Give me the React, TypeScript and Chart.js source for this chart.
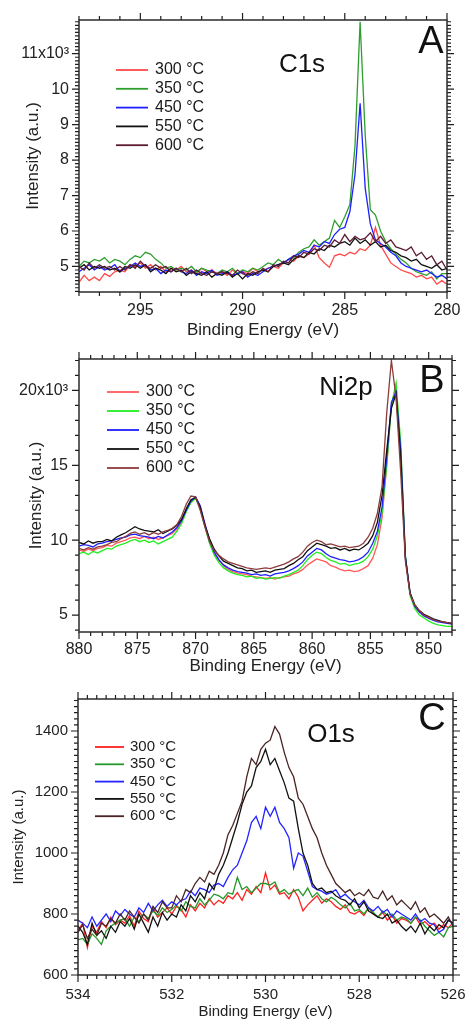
import React, { useEffect, useRef } from "react";
import { Chart, registerables } from "chart.js";

Chart.register(...registerables);

const FONT = "'Liberation Sans', Arial, Helvetica, sans-serif";
const TEMPS = ["300 °C", "350 °C", "450 °C", "550 °C", "600 °C"];

// ---------------- Panel A : C1s (intensity in 10^3 a.u.) ----------------
const C1S_ENERGY = [
  298, 297.75, 297.5, 297.25, 297, 296.75, 296.5, 296.25, 296, 295.75, 295.5, 295.25,
  295, 294.75, 294.5, 294.25, 294, 293.75, 293.5, 293.25, 293, 292.75, 292.5, 292.25,
  292, 291.75, 291.5, 291.25, 291, 290.75, 290.5, 290.25, 290, 289.75, 289.5, 289.25,
  289, 288.75, 288.5, 288.25, 288, 287.75, 287.5, 287.25, 287, 286.75, 286.5, 286.25,
  286, 285.75, 285.5, 285.25, 285, 284.75, 284.5, 284.25, 284, 283.75, 283.5, 283.25,
  283, 282.75, 282.5, 282.25, 282, 281.75, 281.5, 281.25, 281, 280.75, 280.5, 280.25,
  280,
];
const C1S_300 = [
  4.55, 4.75, 4.6, 4.7, 4.6, 4.8, 4.72, 4.85, 4.9, 4.85, 5.05, 5.0,
  5.1, 4.95, 5.05, 4.9, 5.0, 4.85, 4.95, 4.9, 5.0, 4.85, 4.9, 4.8,
  4.95, 4.85, 4.9, 4.8, 4.85, 4.75, 4.9, 4.8, 4.85, 4.8, 4.95, 4.85,
  4.9, 4.95, 5.0, 4.95, 5.1, 5.2, 5.15, 5.3, 5.25, 5.35, 5.6, 5.25,
  5.1, 4.98, 5.3, 5.35, 5.3, 5.4, 5.35, 5.5, 5.45, 5.6, 6.1, 5.6,
  5.35, 5.1, 5.0, 4.9, 4.85, 4.8, 4.7, 4.75, 4.65, 4.7, 4.5, 4.6,
  4.5,
];
const C1S_350 = [
  5.0, 5.15, 5.1, 5.2, 5.15, 5.25, 5.1, 5.2, 5.15, 5.05, 5.2, 5.3,
  5.25, 5.4, 5.35, 5.2, 5.1, 4.95, 5.0, 4.9, 4.95, 4.9, 5.0, 4.85,
  4.95, 4.9, 4.85, 4.8, 4.9, 4.85, 4.95, 4.8, 4.9, 4.85, 4.95, 4.9,
  5.0, 5.1, 5.05, 5.2, 5.1, 5.2, 5.25, 5.4, 5.5, 5.55, 5.75, 5.6,
  5.7, 5.8, 6.3, 6.1, 6.4, 6.75, 8.4, 11.9, 8.7, 6.6, 6.45, 6.0,
  5.7, 5.5, 5.35, 5.2, 5.1, 4.95, 4.85, 4.8, 4.75, 4.85, 4.65, 4.8,
  4.8,
];
const C1S_450 = [
  4.85, 4.95, 5.05, 4.9, 5.0, 4.9, 4.95, 5.05, 4.85, 4.95, 5.0, 5.1,
  5.0, 5.05, 4.9, 4.95, 4.8, 4.9, 4.85, 4.95, 4.85, 4.8, 4.9, 4.75,
  4.85, 4.8, 4.9, 4.75, 4.8, 4.85, 4.75, 4.8, 4.85, 4.7, 4.8, 4.75,
  4.85, 4.95, 5.0, 5.05, 5.1, 5.2, 5.3, 5.35, 5.45, 5.4, 5.6, 5.55,
  5.7, 5.65, 5.9, 6.05, 6.1, 6.55, 7.6, 9.6, 7.2, 6.2, 5.75, 5.65,
  5.55, 5.4, 5.3, 5.1, 5.0, 4.95, 4.9, 4.85, 4.9, 4.8, 4.7, 4.75,
  4.65,
];
const C1S_550 = [
  4.95, 5.05, 4.9, 5.0, 4.95, 5.0, 4.9, 4.95, 4.85, 5.0, 4.95, 5.05,
  4.95, 5.05, 4.85, 4.95, 4.9, 4.8, 4.95, 4.85, 4.9, 4.75, 4.85, 4.8,
  4.75, 4.85, 4.7, 4.8, 4.75, 4.85, 4.7, 4.8, 4.65, 4.8, 4.75, 4.85,
  4.9, 4.85, 5.0, 5.05, 5.1, 5.05, 5.2, 5.3, 5.25, 5.4, 5.35, 5.5,
  5.45, 5.6, 5.55, 5.65, 5.7, 5.6, 5.8, 5.65, 5.75, 5.6, 5.7, 5.55,
  5.6, 5.45, 5.4, 5.3, 5.25, 5.15, 5.2, 5.05, 5.0, 4.95, 5.05, 4.9,
  4.95,
];
const C1S_600 = [
  5.0, 4.9, 5.1, 4.95, 5.05, 4.95, 5.0, 4.9, 5.0, 4.9, 5.05, 4.95,
  5.15, 5.0, 4.95, 5.05, 4.95, 5.0, 4.85, 4.95, 4.85, 4.95, 4.8, 4.9,
  4.8, 4.75, 4.85, 4.8, 4.85, 4.8, 4.75, 4.9, 4.8, 4.75, 4.85, 4.8,
  4.95, 4.85, 5.05, 5.0, 5.15, 5.1, 5.3, 5.25, 5.4, 5.35, 5.5, 5.45,
  5.6, 5.55, 5.75, 5.65, 5.9, 5.7, 5.85, 5.75, 5.8, 5.95, 5.7, 5.85,
  5.65, 5.75, 5.55, 5.5, 5.45, 5.55, 5.3, 5.4, 5.2, 5.3, 5.05, 5.15,
  4.9,
];

// ---------------- Panel B : Ni2p (intensity in 10^3 a.u.) ----------------
const NI2P_ENERGY = [
  880, 879.6, 879.2, 878.8, 878.4, 878, 877.6, 877.2, 876.8, 876.4,
  876, 875.6, 875.2, 874.8, 874.4, 874, 873.6, 873.2, 872.8, 872.4,
  872, 871.6, 871.2, 870.8, 870.4, 870, 869.6, 869.2, 868.8, 868.4,
  868, 867.6, 867.2, 866.8, 866.4, 866, 865.6, 865.2, 864.8, 864.4,
  864, 863.6, 863.2, 862.8, 862.4, 862, 861.6, 861.2, 860.8, 860.4,
  860, 859.6, 859.2, 858.8, 858.4, 858, 857.6, 857.2, 856.8, 856.4,
  856, 855.6, 855.2, 854.8, 854.4, 854, 853.6, 853.2, 852.8, 852.4,
  852, 851.6, 851.2, 850.8, 850.4, 850, 849.6, 849.2, 848.8, 848.4,
  848,
];
const NI2P_300 = [
  9.35, 9.25, 9.4, 9.3, 9.45, 9.5, 9.65, 9.6, 9.8, 9.9,
  10.0, 10.15, 10.2, 10.1, 10.25, 10.1, 10.2, 10.05, 10.15, 10.3,
  10.45, 10.75, 11.2, 11.95, 12.55, 12.85, 12.2, 11.0, 9.9, 9.1,
  8.65, 8.3, 8.05, 7.9, 7.8, 7.75, 7.7, 7.6, 7.55, 7.5,
  7.45, 7.5, 7.4, 7.5, 7.55, 7.6, 7.75, 7.85, 8.05, 8.35,
  8.55, 8.75, 8.65, 8.55, 8.3, 8.2, 8.05, 7.95, 8.0, 7.9,
  7.95, 8.1, 8.3, 8.8, 9.7, 11.5, 15.0, 19.0, 20.3, 16.0,
  8.9, 6.45, 5.6, 5.2, 4.95, 4.8, 4.7, 4.6, 4.55, 4.5,
  4.45,
];
const NI2P_350 = [
  9.1, 9.2, 9.05, 9.25, 9.15, 9.3, 9.45, 9.4, 9.6, 9.7,
  9.8, 9.95, 10.05, 9.9, 10.0, 9.85, 9.95, 9.75, 9.9, 10.05,
  10.2, 10.6, 11.1, 11.9, 12.5, 12.8, 12.1, 10.9, 9.8, 9.0,
  8.5, 8.15, 7.95, 7.8, 7.7, 7.65, 7.55, 7.6, 7.45, 7.5,
  7.4, 7.45, 7.5, 7.45, 7.6, 7.7, 7.85, 8.0, 8.3, 8.7,
  9.0, 9.2, 9.1, 8.85, 8.65, 8.55, 8.4, 8.45, 8.3, 8.4,
  8.45, 8.6, 8.9, 9.4, 10.3, 11.8, 15.0, 19.0, 20.5, 16.5,
  9.0, 6.3, 5.45, 5.0, 4.8, 4.6, 4.45, 4.35, 4.3, 4.25,
  4.25,
];
const NI2P_450 = [
  9.6, 9.7, 9.65, 9.55, 9.75, 9.8, 9.9, 9.95, 10.05, 10.15,
  10.2, 10.35, 10.4, 10.3, 10.25, 10.2, 10.1, 10.25, 10.15, 10.35,
  10.55, 10.85, 11.3, 12.0, 12.6, 12.9, 12.3, 11.1, 10.0, 9.2,
  8.7, 8.35, 8.15, 8.0, 7.9, 7.85, 7.8, 7.7, 7.75, 7.65,
  7.7, 7.6, 7.75, 7.8, 7.85, 7.95, 8.1, 8.3, 8.55, 8.95,
  9.2, 9.45, 9.35, 9.1, 8.9, 8.8, 8.7, 8.65, 8.55, 8.6,
  8.7, 8.9, 9.2, 9.8, 10.6, 12.2, 15.5, 19.2, 19.9, 16.0,
  8.9, 6.5, 5.6, 5.2, 4.95, 4.8, 4.65, 4.55, 4.5, 4.45,
  4.4,
];
const NI2P_550 = [
  9.85, 9.75, 9.95, 9.8, 9.9, 9.9, 10.05, 9.95, 10.2, 10.35,
  10.5, 10.7, 10.9, 10.75, 10.65, 10.6, 10.55, 10.7, 10.45, 10.6,
  10.75, 11.0, 11.4, 12.1, 12.7, 12.85, 12.2, 11.0, 10.1, 9.4,
  8.95, 8.6, 8.45, 8.3, 8.15, 8.1, 7.95, 8.0, 7.85, 7.9,
  7.95, 7.85, 8.0, 8.05, 8.1, 8.3, 8.45, 8.7, 8.9, 9.3,
  9.55, 9.8, 9.7, 9.6, 9.45, 9.5, 9.35, 9.45, 9.3, 9.4,
  9.35, 9.55, 9.8, 10.3, 11.2, 13.0, 16.0, 18.8, 19.8, 15.5,
  8.8, 6.5, 5.7, 5.3, 5.05, 4.9, 4.75, 4.65, 4.55, 4.5,
  4.45,
];
const NI2P_600 = [
  9.45, 9.35, 9.5, 9.4, 9.55, 9.6, 9.7, 9.85, 9.9, 10.1,
  10.25, 10.45, 10.55, 10.4, 10.5, 10.35, 10.5, 10.4, 10.55, 10.65,
  10.8, 11.05, 11.6, 12.4, 12.95, 12.9, 12.0, 10.9, 9.9, 9.3,
  9.0, 8.75, 8.55, 8.45, 8.35, 8.25, 8.15, 8.1, 8.05, 8.1,
  8.15, 8.1, 8.2, 8.3, 8.4, 8.55, 8.75, 8.9, 9.2, 9.6,
  9.85, 10.0, 9.9, 9.7, 9.75, 9.65, 9.55, 9.6, 9.5, 9.55,
  9.6, 9.8, 10.2, 10.8, 11.8, 13.6, 18.5, 22.0, 19.5, 14.5,
  8.6, 6.4, 5.65, 5.3, 5.0, 4.85, 4.7, 4.6, 4.55, 4.5,
  4.45,
];

// ---------------- Panel C : O1s (intensity in a.u.) ----------------
const O1S_ENERGY = [
  534, 533.9, 533.8, 533.7, 533.6, 533.5, 533.4, 533.3, 533.2, 533.1,
  533, 532.9, 532.8, 532.7, 532.6, 532.5, 532.4, 532.3, 532.2, 532.1,
  532, 531.9, 531.8, 531.7, 531.6, 531.5, 531.4, 531.3, 531.2, 531.1,
  531, 530.9, 530.8, 530.7, 530.6, 530.5, 530.4, 530.3, 530.2, 530.1,
  530, 529.9, 529.8, 529.7, 529.6, 529.5, 529.4, 529.3, 529.2, 529.1,
  529, 528.9, 528.8, 528.7, 528.6, 528.5, 528.4, 528.3, 528.2, 528.1,
  528, 527.9, 527.8, 527.7, 527.6, 527.5, 527.4, 527.3, 527.2, 527.1,
  527, 526.9, 526.8, 526.7, 526.6, 526.5, 526.4, 526.3, 526.2, 526.1,
  526,
];
const O1S_300 = [
  745, 770, 690, 760, 740, 775, 755, 790, 765, 780,
  770, 795, 760, 810, 785, 775, 820, 790, 805, 820,
  800, 825, 815, 790, 830, 810, 835, 820, 850, 830,
  845, 835, 860, 850, 870, 845, 880, 865, 890, 870,
  935, 880, 895, 865, 870, 850, 880, 855, 810, 830,
  845, 860, 835, 850, 840, 825, 815, 830, 805, 800,
  810, 795, 820, 800, 790, 805, 780, 795, 770, 785,
  780, 770, 790, 765, 775, 760, 770, 750, 765, 755,
  770,
];
const O1S_350 = [
  715, 720, 700, 735, 720, 700, 745, 760, 770, 780,
  785, 760, 790, 775, 800, 785, 810, 795, 820, 805,
  815, 830, 810, 840, 825, 820, 850, 830, 845, 865,
  860, 850, 870, 865, 920, 880, 890, 870, 885, 900,
  900, 895, 905, 870, 880, 865, 875, 880, 860, 885,
  855, 870, 850, 840, 855, 845, 830, 820, 835, 810,
  815, 800, 820, 805, 790, 810, 795, 800, 780, 790,
  785, 770, 790, 780, 760, 745, 730, 740, 725, 755,
  760,
];
const O1S_450 = [
  780, 770, 755, 790, 760, 780, 800, 775, 810, 795,
  815, 800, 790, 820, 805, 835, 810, 830, 845, 825,
  840, 830, 845, 850, 875, 860, 885, 880, 870, 895,
  900, 890, 920, 945, 960, 1000, 1040, 1100, 1120, 1080,
  1150, 1120, 1150, 1100, 1080, 1050, 950, 1000, 990, 940,
  890, 880, 875, 865, 870, 880, 855, 865, 850, 840,
  830, 845, 820, 810, 825, 805, 815, 790, 810, 800,
  790, 780, 800, 775, 785, 770, 765, 740, 750, 780,
  770,
];
const O1S_550 = [
  760, 740, 700, 770, 730, 745, 720, 760, 740, 775,
  760, 785, 750, 800, 770, 740, 790, 760, 805, 780,
  800, 790, 830, 810, 860, 840, 870, 850, 900, 880,
  930, 960, 1000, 1050, 1100, 1160, 1200, 1220, 1280, 1300,
  1340, 1290, 1310, 1270, 1230, 1180, 1170, 1080, 1000, 960,
  900, 880, 885, 870, 875, 860, 850, 845, 830, 850,
  820, 840, 810, 800, 790, 785, 800, 770, 780, 760,
  745, 760, 740, 770, 735, 760, 745, 765, 755, 780,
  770,
];
const O1S_600 = [
  740, 765, 720, 750, 730, 770, 760, 785, 770, 800,
  780, 810, 790, 770, 800, 780, 825, 805, 840, 820,
  820, 860, 840, 880, 870, 900, 920, 905, 940, 930,
  960, 1000, 1060, 1090, 1130, 1170, 1250, 1310, 1290, 1340,
  1360, 1370, 1415, 1390, 1330, 1280, 1250, 1180, 1160, 1120,
  1080, 1050, 1000, 960, 930, 900, 885, 870, 880, 860,
  870, 860, 880, 855, 850, 875, 845, 860, 830, 845,
  830, 815, 840, 805, 820, 790, 800, 785, 770, 790,
  760,
];

// ---------------- layout / style of the three panels ----------------
type PanelCfg = {
  top: number;
  height: number;
  area: { left: number; right: number; top: number; bottom: number };
  energy: number[];
  series: number[][];
  colors: string[];
  x: { min: number; max: number; major: number; minor: number };
  y: { min: number; max: number; major: number; minor: number; expLabel: number | null };
  tickFont: number;
  titleFont: number;
  tickPadX: number;
  tickPadY: number;
  yTitlePad: number;
  xTitlePad: number;
  legend: { x1: number; x2: number; tx: number; y0: number; dy: number; font: number };
  label: { text: string; x: number; y: number };
  letter: { text: string; x: number; y: number };
};

const PANELS: PanelCfg[] = [
  {
    top: 0,
    height: 345,
    area: { left: 79, right: 447, top: 20, bottom: 292 },
    energy: C1S_ENERGY,
    series: [C1S_300, C1S_350, C1S_450, C1S_550, C1S_600],
    colors: ["#ff4b4b", "#2e9e2e", "#1f1fff", "#111111", "#5c1a33"],
    x: { min: 280, max: 298, major: 5, minor: 1 },
    y: { min: 4.28, max: 11.95, major: 1, minor: 0.1, expLabel: 11 },
    tickFont: 16,
    titleFont: 17,
    tickPadX: 9,
    tickPadY: 10,
    yTitlePad: 23,
    xTitlePad: 4,
    legend: { x1: 116, x2: 148, tx: 155, y0: 70, dy: 18.8, font: 16 },
    label: { text: "C1s", x: 302, y: 65 },
    letter: { text: "A", x: 431, y: 43 },
  },
  {
    top: 335,
    height: 345,
    area: { left: 79, right: 452, top: 24, bottom: 297 },
    energy: NI2P_ENERGY,
    series: [NI2P_300, NI2P_350, NI2P_450, NI2P_550, NI2P_600],
    colors: ["#ff5a5a", "#22ee22", "#1e1eff", "#111111", "#8c3c3c"],
    x: { min: 848, max: 880, major: 5, minor: 1 },
    y: { min: 3.87, max: 22.1, major: 5, minor: 1, expLabel: 20 },
    tickFont: 16,
    titleFont: 17,
    tickPadX: 8,
    tickPadY: 11,
    yTitlePad: 26,
    xTitlePad: 3,
    legend: { x1: 107, x2: 139, tx: 146, y0: 57, dy: 19, font: 16 },
    label: { text: "Ni2p", x: 346, y: 53 },
    letter: { text: "B", x: 432, y: 47 },
  },
  {
    top: 670,
    height: 351,
    area: { left: 78, right: 453, top: 29, bottom: 305 },
    energy: O1S_ENERGY,
    series: [O1S_300, O1S_350, O1S_450, O1S_550, O1S_600],
    colors: ["#ff2020", "#25982a", "#2424ff", "#111111", "#4a2424"],
    x: { min: 526, max: 534, major: 2, minor: 0.2 },
    y: { min: 600, max: 1505, major: 200, minor: 20, expLabel: null },
    tickFont: 15,
    titleFont: 15,
    tickPadX: 11,
    tickPadY: 10,
    yTitlePad: 10,
    xTitlePad: 0,
    legend: { x1: 95, x2: 124, tx: 130, y0: 77, dy: 17.3, font: 15 },
    label: { text: "O1s", x: 331, y: 65 },
    letter: { text: "C", x: 432, y: 50 },
  },
];

const W = 465;

function tickValues(min: number, max: number, step: number): number[] {
  const out: number[] = [];
  const k0 = Math.ceil(min / step - 1e-9);
  const k1 = Math.floor(max / step + 1e-9);
  for (let k = k0; k <= k1; k++) out.push(+(k * step).toFixed(6));
  return out;
}

function isMajor(v: number, major: number): boolean {
  return Math.abs(v / major - Math.round(v / major)) < 1e-6;
}

function makeFramePlugin(cfg: PanelCfg) {
  return {
    id: "xpsFrame",
    afterDraw(chart: any) {
      const { ctx, chartArea: a, scales } = chart;
      const xs = scales.x;
      const ys = scales.y;
      ctx.save();
      ctx.strokeStyle = "#1e1e1e";
      ctx.lineWidth = 1.2;
      ctx.beginPath();
      for (const v of tickValues(cfg.x.min, cfg.x.max, cfg.x.minor)) {
        const len = isMajor(v, cfg.x.major) ? 7 : 4;
        const p = xs.getPixelForValue(v);
        ctx.moveTo(p, a.bottom);
        ctx.lineTo(p, a.bottom + len);
        ctx.moveTo(p, a.top);
        ctx.lineTo(p, a.top - len);
      }
      for (const v of tickValues(cfg.y.min, cfg.y.max, cfg.y.minor)) {
        const len = isMajor(v, cfg.y.major) ? 7 : 4;
        const p = ys.getPixelForValue(v);
        ctx.moveTo(a.left, p);
        ctx.lineTo(a.left - len, p);
        ctx.moveTo(a.right, p);
        ctx.lineTo(a.right + len, p);
      }
      ctx.stroke();
      ctx.strokeStyle = "#2b2b2b";
      ctx.lineWidth = 1.5;
      ctx.strokeRect(a.left, a.top, a.right - a.left, a.bottom - a.top);

      // legend
      const lg = cfg.legend;
      ctx.font = `${lg.font}px ${FONT}`;
      ctx.textBaseline = "middle";
      ctx.textAlign = "left";
      TEMPS.forEach((t, i) => {
        const y = lg.y0 + i * lg.dy;
        ctx.strokeStyle = cfg.colors[i];
        ctx.lineWidth = 1.8;
        ctx.beginPath();
        ctx.moveTo(lg.x1, y);
        ctx.lineTo(lg.x2, y);
        ctx.stroke();
        ctx.fillStyle = "#1a1a1a";
        ctx.fillText(t, lg.tx, y);
      });

      // spectrum label and panel letter
      ctx.textAlign = "center";
      ctx.fillStyle = "#111";
      ctx.font = `26px ${FONT}`;
      ctx.fillText(cfg.label.text, cfg.label.x, cfg.label.y);
      ctx.font = `38px ${FONT}`;
      ctx.fillText(cfg.letter.text, cfg.letter.x, cfg.letter.y);
      ctx.restore();
    },
  };
}

function Panel({ cfg }: { cfg: PanelCfg }) {
  const ref = useRef<HTMLCanvasElement | null>(null);
  useEffect(() => {
    if (!ref.current) return;
    const order = [5, 4, 3, 2, 1];
    const datasets = cfg.series.map((vals, i) => ({
      label: TEMPS[i],
      data: cfg.energy.map((e, j) => ({ x: e, y: vals[j] })),
      borderColor: cfg.colors[i],
      backgroundColor: cfg.colors[i],
      borderWidth: 1.3,
      pointRadius: 0,
      tension: 0,
      fill: false,
      order: order[i],
    }));
    const chart = new Chart(ref.current, {
      type: "line",
      data: { datasets },
      options: {
        responsive: false,
        maintainAspectRatio: false,
        devicePixelRatio: 1,
        animation: false,
        events: [],
        layout: {
          padding: {
            left: 0,
            top: cfg.area.top,
            right: W - cfg.area.right,
            bottom: 0,
          },
        },
        plugins: {
          legend: { display: false },
          tooltip: { enabled: false },
        },
        scales: {
          x: {
            type: "linear",
            position: "bottom",
            reverse: true,
            min: cfg.x.min,
            max: cfg.x.max,
            grid: { display: false, drawTicks: false },
            border: { display: false },
            ticks: {
              stepSize: cfg.x.major,
              includeBounds: false,
              autoSkip: false,
              maxRotation: 0,
              padding: cfg.tickPadX,
              color: "#222",
              font: { family: FONT, size: cfg.tickFont },
              callback: (v: any) => (isMajor(Number(v), cfg.x.major) ? String(Number(v)) : ""),
            },
            title: {
              display: true,
              text: "Binding Energy (eV)",
              color: "#222",
              font: { family: FONT, size: cfg.titleFont },
              padding: { top: 0, bottom: cfg.xTitlePad },
            },
            afterFit: (s: any) => {
              s.height = cfg.height - cfg.area.bottom;
              s.paddingLeft = 0;
              s.paddingRight = 0;
            },
          },
          y: {
            type: "linear",
            position: "left",
            min: cfg.y.min,
            max: cfg.y.max,
            grid: { display: false, drawTicks: false },
            border: { display: false },
            ticks: {
              stepSize: cfg.y.major,
              includeBounds: false,
              autoSkip: false,
              padding: cfg.tickPadY,
              color: "#222",
              font: { family: FONT, size: cfg.tickFont },
              callback: (v: any) => {
                const n = Number(v);
                if (!isMajor(n, cfg.y.major)) return "";
                if (cfg.y.expLabel !== null && Math.abs(n - cfg.y.expLabel) < 1e-6) return `${n}x10³`;
                return String(n);
              },
            },
            title: {
              display: true,
              text: "Intensity (a.u.)",
              color: "#222",
              font: { family: FONT, size: cfg.titleFont },
              padding: { top: cfg.yTitlePad, bottom: 0 },
            },
            afterFit: (s: any) => {
              s.width = cfg.area.left;
              s.paddingTop = 0;
              s.paddingBottom = 0;
            },
          },
        },
      },
      plugins: [makeFramePlugin(cfg)],
    } as any);
    return () => chart.destroy();
  }, [cfg]);
  return (
    <canvas
      ref={ref}
      width={W}
      height={cfg.height}
      style={{ position: "absolute", left: 0, top: cfg.top, width: W, height: cfg.height, display: "block" }}
    />
  );
}

export default function App() {
  return (
    <div style={{ position: "absolute", left: 0, top: 0, width: W, height: 1021, background: "#fff", overflow: "hidden" }}>
      {PANELS.map((p, i) => (
        <Panel key={i} cfg={p} />
      ))}
    </div>
  );
}
